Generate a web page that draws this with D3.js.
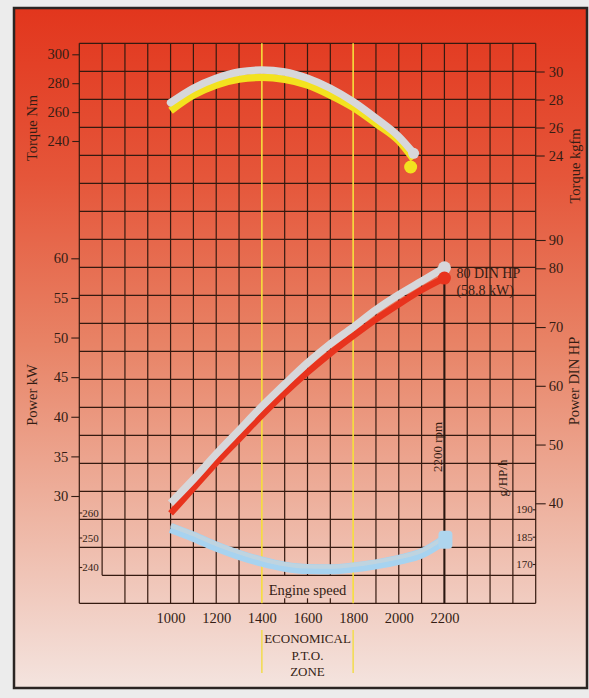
<!DOCTYPE html>
<html lang="en">
<head>
  <meta charset="UTF-8">
  <title>Engine performance</title>
  <script src="https://d3js.org/d3.v7.min.js"></script>
  <style>
    body { margin: 0; background: #ececec; }
    svg { display: block; }
    text { font-family: "Liberation Serif", "DejaVu Serif", serif; fill: #341d14; }
  </style>
</head>
<body>
<div id="chart"></div>
<script>
  // engine speed (rpm)
  const rpm = [1000, 1100, 1200, 1300, 1400, 1500, 1600, 1700, 1800, 1900, 2000, 2100, 2200];
  const rpmTicks = [1000, 1200, 1400, 1600, 1800, 2000, 2200];

  // power kW (gray band and red band)
  const powerGray = [29.1, 32.1, 35.3, 38.3, 41.3, 44.1, 46.8, 49.2, 51.3, 53.5, 55.4, 57.1, 58.8];
  const powerRed  = [27.8, 31.0, 34.2, 37.2, 40.2, 43.0, 45.6, 48.0, 50.2, 52.3, 54.2, 56.0, 57.5];

  // torque Nm (gray band and yellow band)
  const torqueRpm    = [1000, 1100, 1200, 1300, 1400, 1500, 1600, 1700, 1800, 1900, 2000, 2065];
  const torqueGray   = [266.5, 276.5, 283.4, 287.8, 289.1, 287.8, 283.4, 276.5, 267.2, 255.7, 243.0, 231.5];
  const torqueYellow = [261.0, 271.8, 278.8, 282.9, 284.1, 282.7, 278.8, 271.8, 263.3, 252.2, 240.2, 227.5];
  const torqueYellowEnd = [2052, 222];

  // specific fuel consumption
  const fuel = [253.8, 250.3, 246.9, 244.1, 241.8, 240.1, 239.3, 239.2, 239.8, 240.9, 242.4, 244.6, 249.2];

  // tick labels
  const torqueNmTicks = [240, 260, 280, 300];
  const torqueKgTicks = [24, 26, 28, 30];
  const powerKwTicks = [30, 35, 40, 45, 50, 55, 60];
  const powerHpTicks = [40, 50, 60, 70, 80, 90];
  const fuelLeftTicks = [240, 250, 260];
  const fuelRightTicks = [170, 185, 190];
  const zoneLabel = ["ECONOMICAL", "P.T.O.", "ZONE"];
  const ratedLabel = ["80 DIN HP", "(58.8 kW)"];

  const width = 589, height = 698;
  const svg = d3.select("#chart").append("svg").attr("width", width).attr("height", height);

  const defs = svg.append("defs");
  const grad = defs.append("linearGradient").attr("id", "bg").attr("x1", 0).attr("y1", 0).attr("x2", 0).attr("y2", 1);
  [["0%", "#e2361d"], ["25%", "#e5563a"], ["50%", "#e88467"], ["75%", "#eeb5a3"], ["100%", "#f4e4df"]]
    .forEach(s => grad.append("stop").attr("offset", s[0]).attr("stop-color", s[1]));

  // frame
  svg.append("rect").attr("x", 14).attr("y", 8).attr("width", 573).attr("height", 680)
    .attr("fill", "url(#bg)").attr("stroke", "#2b2523").attr("stroke-width", 2.5);

  const x = d3.scaleLinear().domain([600, 2600]).range([79.3, 535.7]);
  const row = d3.scaleLinear().domain([0, 20]).range([43.3, 603.3]);

  const yNm = d3.scaleLinear().domain([240, 300]).range([141, 54.3]);
  const yKg = d3.scaleLinear().domain([24, 30]).range([155.5, 71.5]);
  const yKw = d3.scaleLinear().domain([30, 60]).range([496, 258.3]);
  const yHp = d3.scaleLinear().domain([40, 80, 90]).range([503.3, 268.3, 240]);
  const yFuelL = d3.scaleLinear().domain([240, 250, 260]).range([567, 537.5, 512.5]);
  const yFuelR = d3.scaleLinear().domain([170, 185, 190]).range([564, 536.7, 509.3]);

  // grid
  const grid = svg.append("g").attr("stroke", "#351a10").attr("stroke-width", 1.2);
  d3.range(0, 21).forEach(i => {
    grid.append("line")
      .attr("x1", i === 19 ? x(700) : x(600)).attr("x2", x(2600))
      .attr("y1", row(i)).attr("y2", row(i));
  });
  d3.range(600, 2601, 100).forEach(r => {
    if (r === 1400 || r === 1800) return;
    const shortCol = r === 700 || (r >= 1500 && r <= 1700);
    grid.append("line")
      .attr("x1", x(r)).attr("x2", x(r))
      .attr("y1", row(0)).attr("y2", shortCol ? row(19) : row(20));
    if (r >= 1500 && r <= 1700) {
      grid.append("line").attr("x1", x(r)).attr("x2", x(r))
        .attr("y1", row(20) - 5).attr("y2", row(20));
    }
  });

  // economical PTO zone lines
  [1400, 1800].forEach(r => {
    svg.append("line").attr("x1", x(r)).attr("x2", x(r)).attr("y1", row(0)).attr("y2", row(20))
      .attr("stroke", "#f6df3c").attr("stroke-width", 1.6);
    svg.append("line").attr("x1", x(r)).attr("x2", x(r)).attr("y1", 630).attr("y2", 673)
      .attr("stroke", "#f2dc55").attr("stroke-width", 1.6);
  });

  // rated speed line
  svg.append("line").attr("x1", x(2200)).attr("x2", x(2200))
    .attr("y1", yKw(powerRed[powerRed.length - 1])).attr("y2", row(20))
    .attr("stroke", "#2a1710").attr("stroke-width", 2);

  // axes
  const fmt = d3.format("d");
  function styleAxis(g, size) {
    g.select(".domain").remove();
    g.selectAll(".tick line").attr("stroke", "#341d14").attr("stroke-width", 1.1);
    g.selectAll(".tick text").attr("font-size", size).attr("fill", "#341d14")
      .attr("font-family", "'Liberation Serif', serif");
  }
  svg.append("g").attr("transform", `translate(${x(600)},0)`)
    .call(d3.axisLeft(yNm).tickValues(torqueNmTicks).tickFormat(fmt).tickSize(7).tickPadding(3))
    .call(g => styleAxis(g, 14.5));
  svg.append("g").attr("transform", `translate(${x(600)},0)`)
    .call(d3.axisLeft(yKw).tickValues(powerKwTicks).tickFormat(fmt).tickSize(8).tickPadding(3))
    .call(g => styleAxis(g, 14.5));
  svg.append("g").attr("transform", `translate(${x(2600)},0)`)
    .call(d3.axisRight(yKg).tickValues(torqueKgTicks).tickFormat(fmt).tickSize(9).tickPadding(4))
    .call(g => styleAxis(g, 14.5));
  svg.append("g").attr("transform", `translate(${x(2600)},0)`)
    .call(d3.axisRight(yHp).tickValues(powerHpTicks).tickFormat(fmt).tickSize(10).tickPadding(3))
    .call(g => styleAxis(g, 14.5));
  svg.append("g").attr("transform", `translate(${x(600)},0)`)
    .call(d3.axisRight(yFuelL).tickValues(fuelLeftTicks).tickFormat(fmt).tickSize(3).tickPadding(0))
    .call(g => styleAxis(g, 11));
  svg.append("g").attr("transform", `translate(${x(2600)},0)`)
    .call(d3.axisLeft(yFuelR).tickValues(fuelRightTicks).tickFormat(fmt).tickSize(3).tickPadding(0))
    .call(g => styleAxis(g, 11));
  svg.append("g").attr("transform", `translate(0,${row(20)})`)
    .call(d3.axisBottom(x).tickValues(rpmTicks).tickFormat(fmt).tickSize(0).tickPadding(9))
    .call(g => styleAxis(g, 14.5));

  // axis titles
  function vTitle(cx, cy, txt, size) {
    svg.append("text").attr("transform", `translate(${cx},${cy}) rotate(-90)`)
      .attr("text-anchor", "middle").attr("dominant-baseline", "central")
      .attr("font-size", size).text(txt);
  }
  vTitle(32, 128, "Torque Nm", 14.5);
  vTitle(32, 395, "Power kW", 14.5);
  vTitle(575, 166, "Torque kgfm", 14.5);
  vTitle(574, 381, "Power DIN HP", 14.5);
  vTitle(437, 447, "2200 rpm", 13);
  vTitle(502, 478, "g/HP/h", 13);

  svg.append("text").attr("x", x(1600)).attr("y", 595).attr("text-anchor", "middle")
    .attr("font-size", 14.5).text("Engine speed");
  svg.selectAll(".zone").data(zoneLabel).enter().append("text").attr("class", "zone")
    .attr("x", x(1600)).attr("y", (d, i) => 643 + i * 16.5).attr("text-anchor", "middle")
    .attr("font-size", 13).text(d => d);

  svg.selectAll(".rated").data(ratedLabel).enter().append("text").attr("class", "rated")
    .attr("x", x(2200) + 12).attr("y", (d, i) => 278 + i * 16.5)
    .attr("font-size", 14).text(d => d);

  // curves
  const line = (xs, ys, scale) => d3.line().curve(d3.curveMonotoneX)
    .x((d, i) => x(xs[i])).y(d => scale(d))(ys);

  // fuel
  svg.append("path").attr("d", line(rpm, fuel, yFuelL)).attr("fill", "none")
    .attr("stroke", "#a7d3f0").attr("stroke-width", 10);
  svg.append("path").attr("d", line(rpm, fuel, yFuelL)).attr("transform", "translate(0,-2.5)")
    .attr("fill", "none").attr("stroke", "#c6d5dc").attr("stroke-width", 4).attr("opacity", 0.8);
  svg.append("rect").attr("x", x(2200) - 6).attr("y", yFuelL(fuel[fuel.length - 1]) - 9)
    .attr("width", 14).attr("height", 18).attr("rx", 4).attr("fill", "#aed5ee");

  // torque
  svg.append("path").attr("d", line(torqueRpm, torqueYellow, yNm)).attr("fill", "none")
    .attr("stroke", "#f3e21f").attr("stroke-width", 7.5).attr("stroke-linecap", "butt");
  svg.append("path").attr("d", line(torqueRpm, torqueGray, yNm)).attr("fill", "none")
    .attr("stroke", "#d7d7da").attr("stroke-width", 7.5).attr("stroke-linecap", "round");
  svg.append("circle").attr("cx", x(torqueRpm[torqueRpm.length - 1])).attr("cy", yNm(torqueGray[torqueGray.length - 1]))
    .attr("r", 5.5).attr("fill", "#d7d7da");
  svg.append("circle").attr("cx", x(torqueYellowEnd[0])).attr("cy", yNm(torqueYellowEnd[1]))
    .attr("r", 6.5).attr("fill", "#f3e21f");

  // power
  svg.append("path").attr("d", line(rpm, powerRed, yKw)).attr("fill", "none")
    .attr("stroke", "#e8331d").attr("stroke-width", 6.5);
  svg.append("path").attr("d", line(rpm, powerGray, yKw)).attr("fill", "none")
    .attr("stroke", "#d7d7da").attr("stroke-width", 7.5);
  svg.append("circle").attr("cx", x(2200)).attr("cy", yKw(powerGray[powerGray.length - 1])).attr("r", 6.5).attr("fill", "#d7d7da");
  svg.append("circle").attr("cx", x(2200)).attr("cy", yKw(powerRed[powerRed.length - 1])).attr("r", 6.5).attr("fill", "#e8331d");
</script>
</body>
</html>
